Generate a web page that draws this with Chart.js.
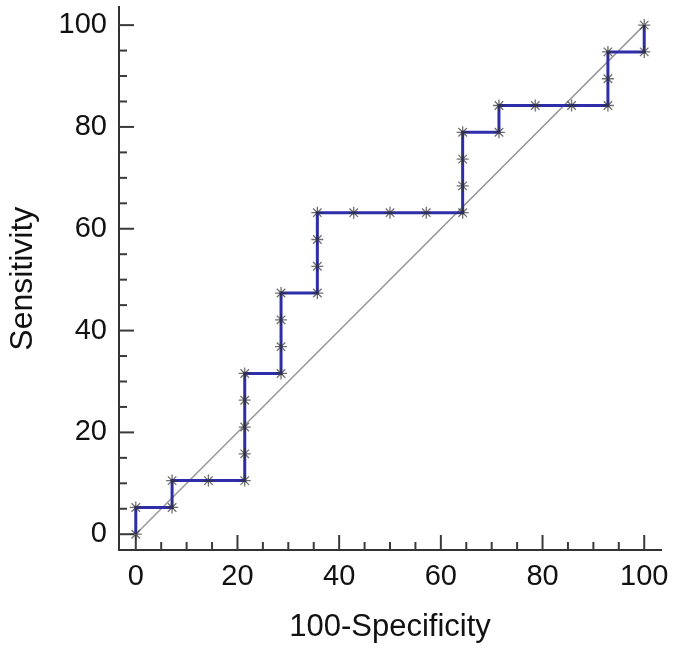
<!DOCTYPE html>
<html>
<head>
<meta charset="utf-8">
<script src="https://cdn.jsdelivr.net/npm/chart.js@4/dist/chart.umd.min.js"></script>
<style>
  html, body { margin: 0; padding: 0; background: #ffffff; }
  #wrap { width: 675px; height: 652px; }
</style>
</head>
<body>
<div id="wrap"><canvas id="c" width="675" height="652"></canvas></div>
<script>
// ROC curve points (100-Specificity, Sensitivity)
const fpr = [0, 0, 7.14, 7.14, 14.29, 21.43, 21.43, 21.43, 21.43, 21.43,
  28.57, 28.57, 28.57, 28.57, 35.71, 35.71, 35.71, 35.71, 42.86, 50,
  57.14, 64.29, 64.29, 64.29, 64.29, 71.43, 71.43, 78.57, 85.71, 92.86,
  92.86, 92.86, 100, 100];
const sens = [0, 5.26, 5.26, 10.53, 10.53, 10.53, 15.79, 21.05, 26.32, 31.58,
  31.58, 36.84, 42.11, 47.37, 47.37, 52.63, 57.89, 63.16, 63.16, 63.16,
  63.16, 63.16, 68.42, 73.68, 78.95, 78.95, 84.21, 84.21, 84.21, 84.21,
  89.47, 94.74, 94.74, 100];
// reference diagonal
const diagX = [0, 100];
const diagY = [0, 100];
// tick labels and tick marks
const xTickVals = [0, 20, 40, 60, 80, 100];
const yTickVals = [0, 20, 40, 60, 80, 100];
const tickMarks = [0, 5, 10, 15, 20, 25, 30, 35, 40, 45, 50, 55, 60, 65, 70, 75, 80, 85, 90, 95, 100];

const rocData = fpr.map((v, i) => ({ x: v, y: sens[i] }));
const diagData = diagX.map((v, i) => ({ x: v, y: diagY[i] }));

const innerTicks = {
  id: 'innerTicks',
  beforeDatasetsDraw(chart) {
    const { ctx, chartArea, scales } = chart;
    const xs = scales.x, ys = scales.y;
    ctx.save();
    ctx.strokeStyle = '#3a3a3a';
    ctx.lineWidth = 2;
    tickMarks.forEach(v => {
      const len = xTickVals.includes(v) ? 15 : 8;
      const px = xs.getPixelForValue(v);
      ctx.beginPath();
      ctx.moveTo(px, chartArea.bottom);
      ctx.lineTo(px, chartArea.bottom - len);
      ctx.stroke();
    });
    tickMarks.forEach(v => {
      const len = yTickVals.includes(v) ? 15 : 8;
      const py = ys.getPixelForValue(v);
      ctx.beginPath();
      ctx.moveTo(chartArea.left, py);
      ctx.lineTo(chartArea.left + len, py);
      ctx.stroke();
    });
    ctx.restore();
  }
};

const tickFont = { family: '"Liberation Sans", Arial, sans-serif', size: 29 };
const xTitleFont = { family: '"Liberation Sans", Arial, sans-serif', size: 31 };
const yTitleFont = { family: '"Liberation Sans", Arial, sans-serif', size: 32 };

new Chart(document.getElementById('c'), {
  type: 'line',
  data: {
    datasets: [
      {
        data: rocData,
        borderColor: '#2e2eaa',
        borderWidth: 3,
        pointStyle: 'star',
        pointRadius: 6,
        pointBorderColor: 'rgba(50,50,50,0.7)',
        pointBackgroundColor: 'rgba(50,50,50,0.7)',
        pointBorderWidth: 1.3,
        fill: false,
        tension: 0
      },
      {
        data: diagData,
        borderColor: '#9a9a9a',
        borderWidth: 1.5,
        pointRadius: 0,
        fill: false,
        tension: 0
      }
    ]
  },
  options: {
    responsive: false,
    animation: false,
    devicePixelRatio: 1,
    layout: { padding: { top: 6, right: 14, left: 0, bottom: 0 } },
    plugins: { legend: { display: false }, tooltip: { enabled: false } },
    scales: {
      x: {
        type: 'linear',
        min: -3.3,
        max: 103.3,
        afterBuildTicks: s => { s.ticks = xTickVals.map(v => ({ value: v })); },
        afterFit: s => { s.height = 102; s.paddingLeft = 0; s.paddingRight = 0; },
        grid: { display: true, drawOnChartArea: false, drawTicks: false },
        border: { display: true, color: '#333', width: 2 },
        ticks: { color: '#111', font: tickFont, padding: 10, maxRotation: 0, autoSkip: false },
        title: { display: true, text: '100-Specificity', color: '#111', font: xTitleFont, padding: { top: 0, bottom: 6 } }
      },
      y: {
        type: 'linear',
        min: -3.1,
        max: 103.5,
        afterBuildTicks: s => { s.ticks = yTickVals.map(v => ({ value: v })); },
        afterFit: s => { s.width = 119; s.paddingTop = 0; s.paddingBottom = 0; },
        grid: { display: true, drawOnChartArea: false, drawTicks: false },
        border: { display: true, color: '#333', width: 2 },
        ticks: { color: '#111', font: tickFont, padding: 12, autoSkip: false },
        title: { display: true, text: 'Sensitivity', color: '#111', font: yTitleFont, padding: { top: 4, bottom: 0 } }
      }
    }
  },
  plugins: [innerTicks]
});
</script>
</body>
</html>
